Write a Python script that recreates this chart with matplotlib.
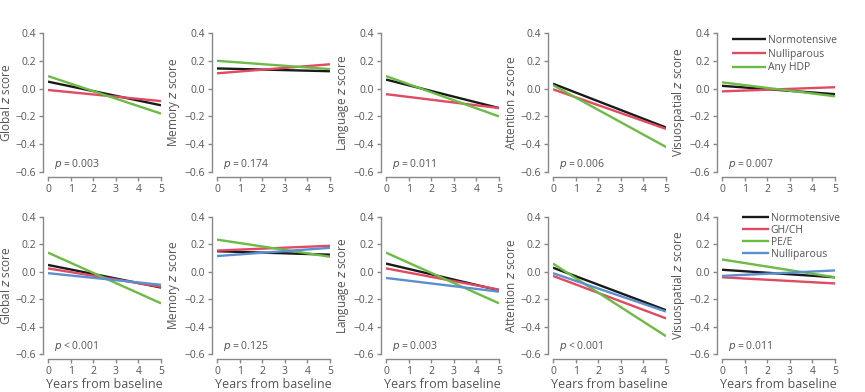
import numpy as np
import matplotlib.pyplot as plt

plt.rcParams['font.family'] = ['Open Sans', 'DejaVu Sans']

years = [0, 5]
domains = ['Global', 'Memory', 'Language', 'Attention', 'Visuospatial']

# top row: start / end z score for each group
top_groups = ['Normotensive', 'Nulliparous', 'Any HDP']
top_colors = ['#1a1a1a', '#e04a62', '#6cbb45']
top_norm = [(0.05, -0.12), (0.145, 0.125), (0.065, -0.14), (0.035, -0.28), (0.02, -0.04)]
top_null = [(-0.01, -0.09), (0.11, 0.175), (-0.04, -0.14), (-0.005, -0.29), (-0.02, 0.01)]
top_hdp = [(0.09, -0.18), (0.20, 0.14), (0.09, -0.20), (0.025, -0.42), (0.045, -0.055)]
top_p = ['= 0.003', '= 0.174', '= 0.011', '= 0.006', '= 0.007']

# bottom row
bot_groups = ['Normotensive', 'GH/CH', 'PE/E', 'Nulliparous']
bot_colors = ['#1a1a1a', '#e04a62', '#6cbb45', '#5b8fcf']
bot_norm = [(0.05, -0.115), (0.15, 0.125), (0.06, -0.135), (0.03, -0.28), (0.015, -0.04)]
bot_ghch = [(0.025, -0.11), (0.155, 0.19), (0.025, -0.13), (-0.03, -0.34), (-0.04, -0.085)]
bot_pee = [(0.14, -0.23), (0.235, 0.11), (0.14, -0.23), (0.06, -0.47), (0.09, -0.04)]
bot_null = [(-0.01, -0.095), (0.115, 0.175), (-0.045, -0.145), (-0.01, -0.29), (-0.03, 0.01)]
bot_p = ['< 0.001', '= 0.125', '= 0.003', '< 0.001', '= 0.011']

grey = '#555555'
fig = plt.figure(figsize=(8.65, 3.92), dpi=100)

lefts = [48, 217, 386, 553, 722]
W, H = 865, 392


def style_axis(ax, domain, ptxt, show_xlabel):
    ax.set_xlim(0, 5)
    ax.set_ylim(-0.6, 0.4)
    ax.set_xticks(range(6))
    ax.set_yticks([-0.6, -0.4, -0.2, 0.0, 0.2, 0.4])
    ax.set_yticklabels(['\u22120.6', '\u22120.4', '\u22120.2', '0.0', '0.2', '0.4'])
    for s in ['top', 'right']:
        ax.spines[s].set_visible(False)
    for s in ['left', 'bottom']:
        ax.spines[s].set_color('#888888')
        ax.spines[s].set_linewidth(1.0)
        ax.spines[s].set_position(('outward', 3.6))
    ax.tick_params(colors='#888888', labelcolor=grey, labelsize=7.5, length=3, width=1, pad=2)
    ax.set_ylabel(domain + ' $z$ score', color=grey, fontsize=8.5)
    ax.yaxis.set_label_coords(-0.31, 0.5)
    if show_xlabel:
        ax.set_xlabel('Years from baseline', color=grey, fontsize=9)
        ax.xaxis.set_label_coords(0.5, -0.175)
    ax.text(0.25, -0.54, '$p$ ' + ptxt, color=grey, fontsize=7.5, va='center')


for i, d in enumerate(domains):
    ax = fig.add_axes([lefts[i] / W, 1 - 172 / H, 113 / W, 139 / H])
    for name, col, series in zip(top_groups, top_colors, [top_norm, top_null, top_hdp]):
        ax.plot(years, series[i], color=col, lw=1.7, label=name, solid_capstyle='butt')
    style_axis(ax, d, top_p[i], False)
    if i == 4:
        ax.legend(loc='upper left', bbox_to_anchor=(0.05, 1.015), frameon=False, fontsize=7.5,
                  handlelength=3.3, handletextpad=0.2, labelspacing=0.25, labelcolor=grey,
                  borderaxespad=0)

for i, d in enumerate(domains):
    ax = fig.add_axes([lefts[i] / W, 1 - 354 / H, 113 / W, 137 / H])
    for name, col, series in zip(bot_groups, bot_colors, [bot_norm, bot_ghch, bot_pee, bot_null]):
        ax.plot(years, series[i], color=col, lw=1.7, label=name, solid_capstyle='butt')
    style_axis(ax, d, bot_p[i], True)
    if i == 4:
        ax.legend(loc='upper left', bbox_to_anchor=(0.14, 1.06), frameon=False, fontsize=7.5,
                  handlelength=2.6, handletextpad=0.15, labelspacing=0.1, labelcolor=grey,
                  borderaxespad=0)

fig.savefig('out.png', dpi=100)
